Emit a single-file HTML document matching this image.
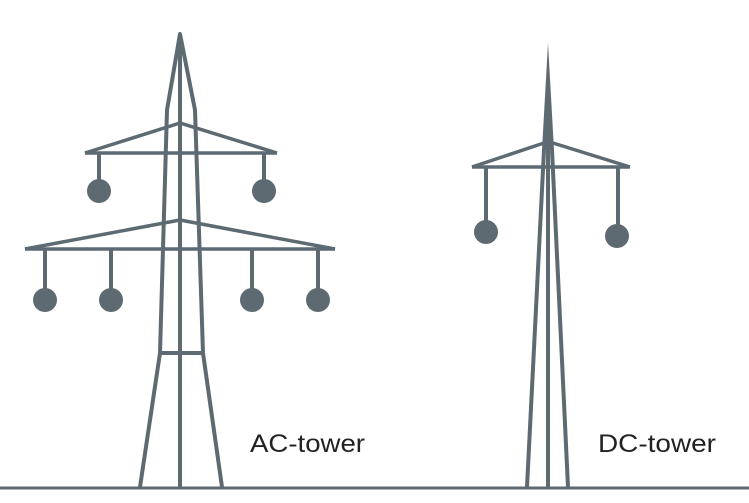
<!DOCTYPE html>
<html><head><style>
html,body{margin:0;padding:0;background:#fff;}
svg{display:block}
text{font-family:"Liberation Sans",sans-serif;font-size:25px;fill:#222}
</style></head><body>
<svg width="749" height="503" viewBox="0 0 749 503">
<g stroke="#5e6a72" stroke-width="4" fill="none" stroke-linejoin="round">
<line x1="0" y1="488" x2="749" y2="488" stroke-width="3"/>
<line x1="180" y1="34" x2="180" y2="487"/>
<polyline points="140,487 160,353 167,110 180,34 195,110 203,353 222,487"/>
<line x1="160" y1="353" x2="203" y2="353"/>
<line x1="85" y1="153" x2="277" y2="153" stroke-width="3.5"/>
<polyline points="85,153 180,123 277,153" stroke-width="3.5"/>
<line x1="25" y1="249" x2="335" y2="249" stroke-width="3.5"/>
<polyline points="25,249 180,220 335,249" stroke-width="3.5"/>
<line x1="99" y1="153" x2="99" y2="190"/>
<line x1="264" y1="153" x2="264" y2="190"/>
<line x1="45" y1="249" x2="45" y2="298"/>
<line x1="111" y1="249" x2="111" y2="298"/>
<line x1="252" y1="249" x2="252" y2="298"/>
<line x1="318" y1="249" x2="318" y2="298"/>
<line x1="548" y1="140" x2="548" y2="487"/>
<polyline points="527,487 544,150"/>
<polyline points="568,487 552,150"/>
<line x1="472" y1="167" x2="630" y2="167" stroke-width="3.5"/>
<polyline points="472,167 544,143" stroke-width="3.5"/>
<polyline points="630,167 553,143" stroke-width="3.5"/>
<line x1="486" y1="167" x2="486" y2="230"/>
<line x1="618" y1="167" x2="618" y2="234"/>
</g>
<polygon points="548,43 542,150 554,150" fill="#5e6a72"/>
<g fill="#5e6a72">
<circle cx="99" cy="191" r="12"/>
<circle cx="264" cy="191" r="12"/>
<circle cx="45" cy="300" r="12"/>
<circle cx="111" cy="300" r="12"/>
<circle cx="252" cy="300" r="12"/>
<circle cx="318" cy="300" r="12"/>
<circle cx="486" cy="232" r="12"/>
<circle cx="617" cy="236" r="12"/>
</g>
<text x="250" y="452" textLength="115" lengthAdjust="spacingAndGlyphs">AC-tower</text>
<text x="598" y="452" textLength="118" lengthAdjust="spacingAndGlyphs">DC-tower</text>
</svg>
</body></html>
